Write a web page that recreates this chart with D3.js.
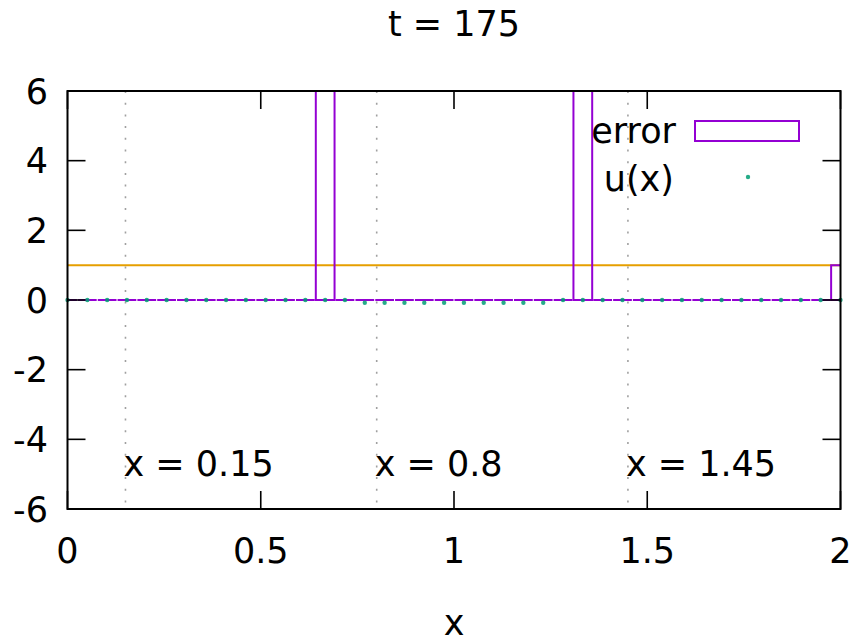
<!DOCTYPE html>
<html>
<head>
<meta charset="utf-8">
<script src="https://cdn.jsdelivr.net/npm/d3@7"></script>
<style>
  html, body { margin: 0; padding: 0; background: #fff; }
  svg { display: block; font-family: "DejaVu Sans", Verdana, sans-serif; }
</style>
</head>
<body>
<svg id="chart" width="861" height="643"></svg>
<script>
// Grid points and series
const xGrid = [0, 0.0513, 0.1026, 0.1538, 0.2051, 0.2564, 0.3077, 0.3590, 0.4103, 0.4615,
               0.5128, 0.5641, 0.6154, 0.6667, 0.7179, 0.7692, 0.8205, 0.8718, 0.9231, 0.9744,
               1.0256, 1.0769, 1.1282, 1.1795, 1.2308, 1.2821, 1.3333, 1.3846, 1.4359, 1.4872,
               1.5385, 1.5897, 1.6410, 1.6923, 1.7436, 1.7949, 1.8462, 1.8974, 1.9487, 2.0];
const errorValues = [0, 0, 0, 0, 0, 0, 0, 0, 0, 0,
                     0, 0, 0, 8, 0, 0, 0, 0, 0, 0,
                     0, 0, 0, 0, 0, 0, 8, 0, 0, 0,
                     0, 0, 0, 0, 0, 0, 0, 0, 0, 1];
const uValues = [0, 0, 0, 0, 0, 0, 0, 0, 0, 0,
                 0, 0, 0, 0, 0, -0.08, -0.08, -0.08, -0.08, -0.08,
                 -0.08, -0.08, -0.08, -0.08, -0.08, 0, 0, 0, 0, 0,
                 0, 0, 0, 0, 0, 0, 0, 0, 0, 0];
const referenceLevel = [1];
const probeXs = [0.15, 0.8, 1.45];
const probeLabels = ["x = 0.15", "x = 0.8", "x = 1.45"];
const xTicks = [0, 0.5, 1, 1.5, 2];
const yTicks = [-6, -4, -2, 0, 2, 4, 6];
const titleText = "t = 175";
const seriesNames = ["error", "u(x)"];

const boxWidth = 0.0485;
const purple = "#9400d3", green = "#009e73", orange = "#e69f00";
const fontSize = 35;

const svg = d3.select("#chart");
const plot = { left: 67.5, right: 840.5, top: 91, bottom: 509 };

const x = d3.scaleLinear().domain([0, 2]).range([plot.left, plot.right]);
const y = d3.scaleLinear().domain([-6, 6]).range([plot.bottom, plot.top]);

svg.append("defs").append("clipPath").attr("id", "plotClip")
  .append("rect")
  .attr("x", plot.left).attr("y", plot.top)
  .attr("width", plot.right - plot.left).attr("height", plot.bottom - plot.top);

// Dotted vertical guide lines at probe positions
svg.append("g").selectAll("line").data(probeXs).join("line")
  .attr("x1", d => x(d)).attr("x2", d => x(d))
  .attr("y1", plot.top).attr("y2", plot.bottom)
  .attr("stroke", "#a0a0a0").attr("stroke-width", 1.6)
  .attr("stroke-dasharray", "2,9.7");

// Probe labels
svg.append("g").selectAll("text").data(probeXs).join("text")
  .attr("x", d => x(d) - 2).attr("y", 476)
  .attr("font-size", fontSize).attr("fill", "#000")
  .text((d, i) => probeLabels[i]);

const clipped = svg.append("g").attr("clip-path", "url(#plotClip)");

// Reference level line
clipped.selectAll("line.ref").data(referenceLevel).join("line")
  .attr("class", "ref")
  .attr("x1", plot.left).attr("x2", plot.right)
  .attr("y1", d => y(d)).attr("y2", d => y(d))
  .attr("stroke", orange).attr("stroke-width", 2);

// Error as empty boxes (zero-height boxes collapse to a line on the baseline)
const boxData = xGrid.map((xv, i) => ({ x: xv, v: errorValues[i] }));
clipped.selectAll("path.err").data(boxData).join("path")
  .attr("class", "err")
  .attr("d", d => {
    const p = d3.path();
    const x0 = x(d.x - boxWidth / 2), x1 = x(d.x + boxWidth / 2);
    const yb = y(0), yt = y(d.v);
    p.moveTo(x0, yb); p.lineTo(x0, yt); p.lineTo(x1, yt); p.lineTo(x1, yb); p.closePath();
    return p.toString();
  })
  .attr("fill", "none").attr("stroke", purple).attr("stroke-width", 2)
  .attr("stroke-linejoin", "miter");

// u(x) points
svg.append("g").selectAll("circle").data(xGrid.map((xv, i) => ({ x: xv, v: uValues[i] })))
  .join("circle")
  .attr("cx", d => x(d.x)).attr("cy", d => y(d.v))
  .attr("r", 2.2).attr("fill", green).attr("opacity", 0.85);

// Ticks (mirrored on all sides)
const tickLen = 18;
const ticks = svg.append("g").attr("stroke", "#000").attr("stroke-width", 1.6);
ticks.selectAll("line.yl").data(yTicks).join("line").attr("class", "yl")
  .attr("x1", plot.left).attr("x2", plot.left + tickLen)
  .attr("y1", d => y(d)).attr("y2", d => y(d));
ticks.selectAll("line.yr").data(yTicks).join("line").attr("class", "yr")
  .attr("x1", plot.right).attr("x2", plot.right - tickLen)
  .attr("y1", d => y(d)).attr("y2", d => y(d));
ticks.selectAll("line.xb").data(xTicks).join("line").attr("class", "xb")
  .attr("x1", d => x(d)).attr("x2", d => x(d))
  .attr("y1", plot.bottom).attr("y2", plot.bottom - tickLen);
ticks.selectAll("line.xt").data(xTicks).join("line").attr("class", "xt")
  .attr("x1", d => x(d)).attr("x2", d => x(d))
  .attr("y1", plot.top).attr("y2", plot.top + tickLen);

// Border
svg.append("rect")
  .attr("x", plot.left).attr("y", plot.top)
  .attr("width", plot.right - plot.left).attr("height", plot.bottom - plot.top)
  .attr("fill", "none").attr("stroke", "#000").attr("stroke-width", 2);

// Tick labels
svg.append("g").selectAll("text").data(yTicks).join("text")
  .attr("x", 48).attr("y", d => y(d) + 12.5)
  .attr("text-anchor", "end").attr("font-size", fontSize)
  .text(d => d3.format("d")(d).replace("−", "-"));
svg.append("g").selectAll("text").data(xTicks).join("text")
  .attr("x", d => x(d)).attr("y", 563)
  .attr("text-anchor", "middle").attr("font-size", fontSize)
  .text(d => String(d));

// Axis label and title
svg.append("text").attr("x", (plot.left + plot.right) / 2).attr("y", 635)
  .attr("text-anchor", "middle").attr("font-size", fontSize).text("x");
svg.append("text").attr("x", (plot.left + plot.right) / 2).attr("y", 36)
  .attr("text-anchor", "middle").attr("font-size", fontSize).text(titleText);

// Legend
const legend = svg.append("g");
legend.append("text").attr("x", 676).attr("y", 143)
  .attr("text-anchor", "end").attr("font-size", fontSize).text(seriesNames[0]);
legend.append("rect").attr("x", 695).attr("y", 121).attr("width", 104).attr("height", 20)
  .attr("fill", "none").attr("stroke", purple).attr("stroke-width", 2);
legend.append("text").attr("x", 674).attr("y", 191)
  .attr("text-anchor", "end").attr("font-size", fontSize).text(seriesNames[1]);
legend.append("circle").attr("cx", 748).attr("cy", 177).attr("r", 2.2)
  .attr("fill", green).attr("opacity", 0.85);
</script>
</body>
</html>
